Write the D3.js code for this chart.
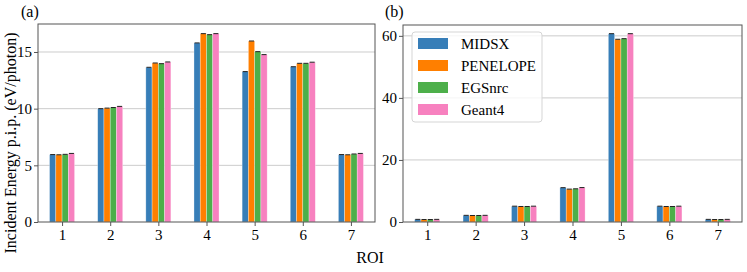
<!DOCTYPE html>
<html>
<head>
<meta charset="utf-8">
<script src="https://cdn.jsdelivr.net/npm/d3@7"></script>
<style>
  body { margin: 0; background: #fff; }
  svg text { font-family: "Liberation Serif", "DejaVu Serif", serif !important; fill: #000; }
</style>
</head>
<body>
<script>
// data
var rois = ["1", "2", "3", "4", "5", "6", "7"];
var codes = ["MIDSX", "PENELOPE", "EGSnrc", "Geant4"];
var colors = ["#377eb8", "#ff7f00", "#4daf4a", "#f781bf"];

// panel (a): incident energy per incident photon
var energyMIDSX    = [5.95, 10.0, 13.65, 15.8, 13.27, 13.7, 5.95];
var energyPENELOPE = [5.93, 10.05, 14.03, 16.62, 15.97, 14.0, 5.93];
var energyEGSnrc   = [5.97, 10.1, 13.97, 16.53, 15.03, 14.0, 6.0];
var energyGeant4   = [6.05, 10.2, 14.12, 16.62, 14.77, 14.1, 6.05];

// panel (b)
var fracMIDSX    = [0.85, 2.15, 5.1, 11.07, 60.7, 5.1, 0.85];
var fracPENELOPE = [0.8, 2.1, 5.0, 10.6, 58.9, 5.0, 0.8];
var fracEGSnrc   = [0.8, 2.1, 5.0, 10.7, 59.1, 5.0, 0.8];
var fracGeant4   = [0.85, 2.15, 5.1, 11.1, 60.7, 5.1, 0.85];

var yTicksA = [0, 5, 10, 15];
var yTicksB = [0, 20, 40, 60];

var W = 747, H = 272;
var svg = d3.select("body").append("svg")
    .attr("width", W)
    .attr("height", H);

var barW = 0.13; // in category units

function panel(opts) {
    var x = d3.scaleLinear().domain([-0.5, rois.length - 0.5]).range([opts.left, opts.right]);
    var y = d3.scaleLinear().domain([0, opts.ymax]).range([opts.bottom, opts.top]);
    var g = svg.append("g");

    // gridlines
    g.selectAll(".grid").data(opts.ticks.filter(function (t) { return t > 0; }))
        .enter().append("line")
        .attr("x1", opts.left).attr("x2", opts.right)
        .attr("y1", function (d) { return y(d); })
        .attr("y2", function (d) { return y(d); })
        .attr("stroke", "#cccccc").attr("stroke-width", 1);

    // bars
    opts.series.forEach(function (vals, s) {
        var off = (s - 1.5) * barW;
        var grp = g.append("g");
        grp.selectAll("rect").data(vals).enter().append("rect")
            .attr("x", function (d, i) { return x(i + off - barW / 2); })
            .attr("width", x(barW) - x(0))
            .attr("y", function (d) { return y(d); })
            .attr("height", function (d) { return y(0) - y(d); })
            .attr("fill", colors[s])
            .attr("stroke", "rgba(255,255,255,0.5)")
            .attr("stroke-width", 0.6);
        // small error caps
        grp.selectAll("line").data(vals).enter().append("line")
            .attr("x1", function (d, i) { return x(i + off) - 2.5; })
            .attr("x2", function (d, i) { return x(i + off) + 2.5; })
            .attr("y1", function (d) { return y(d); })
            .attr("y2", function (d) { return y(d); })
            .attr("stroke", "#222").attr("stroke-width", 1);
    });

    // frame
    g.append("rect")
        .attr("x", opts.left).attr("y", opts.top)
        .attr("width", opts.right - opts.left)
        .attr("height", opts.bottom - opts.top)
        .attr("fill", "none").attr("stroke", "#555").attr("stroke-width", 1);

    var yAxis = d3.axisLeft(y).tickValues(opts.ticks).tickSize(4).tickPadding(2).tickFormat(d3.format("d"));
    var gy = g.append("g").attr("transform", "translate(" + opts.left + ",0)").call(yAxis)
        .attr("font-family", "Liberation Serif").attr("font-size", 15);
    gy.select(".domain").remove();
    gy.selectAll(".tick line").attr("stroke", "#555");

    var xAxis = d3.axisBottom(x).tickValues(d3.range(rois.length))
        .tickFormat(function (i) { return rois[i]; }).tickSize(4).tickPadding(3);
    var gx = g.append("g").attr("transform", "translate(0," + opts.bottom + ")").call(xAxis)
        .attr("font-family", "Liberation Serif").attr("font-size", 15);
    gx.select(".domain").remove();
    gx.selectAll(".tick line").attr("stroke", "#555");

    g.append("text")
        .attr("x", opts.labelX).attr("y", 17)
        .style("font-size", "16px")
        .text(opts.label);
    return { x: x, y: y, g: g };
}

panel({
    left: 38, right: 375, top: 24, bottom: 222, ymax: 17.47,
    ticks: yTicksA, label: "(a)", labelX: 21,
    series: [energyMIDSX, energyPENELOPE, energyEGSnrc, energyGeant4]
});

panel({
    left: 403, right: 742, top: 25, bottom: 222, ymax: 63.5,
    ticks: yTicksB, label: "(b)", labelX: 385,
    series: [fracMIDSX, fracPENELOPE, fracEGSnrc, fracGeant4]
});

// legend
var leg = svg.append("g").attr("transform", "translate(412,32)");
leg.append("rect")
    .attr("width", 130).attr("height", 90).attr("rx", 3)
    .attr("fill", "rgba(255,255,255,0.8)")
    .attr("stroke", "#d5d5d5");
codes.forEach(function (c, i) {
    leg.append("rect")
        .attr("x", 6).attr("y", 6 + i * 22)
        .attr("width", 30).attr("height", 11)
        .attr("fill", colors[i]);
    leg.append("text")
        .attr("x", 49).attr("y", 16.5 + i * 22)
        .style("font-size", "15px")
        .text(c);
});

// shared axis labels
svg.append("text")
    .attr("transform", "translate(16,143) rotate(-90)")
    .attr("text-anchor", "middle")
    .style("font-size", "16px")
    .text("Incident Energy p.i.p. (eV/photon)");

svg.append("text")
    .attr("x", 370).attr("y", 263)
    .attr("text-anchor", "middle")
    .style("font-size", "16px")
    .text("ROI");
</script>
</body>
</html>
